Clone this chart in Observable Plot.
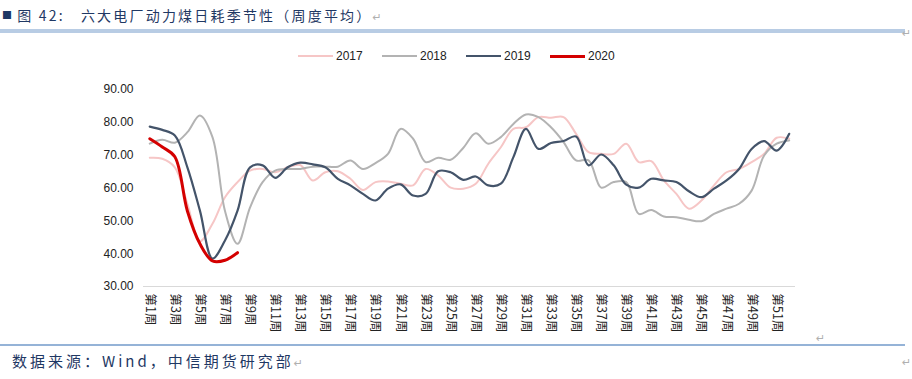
<!DOCTYPE html>
<html>
<head>
<meta charset="utf-8">
<script src="https://cdn.jsdelivr.net/npm/d3@7"></script>
<script src="https://cdn.jsdelivr.net/npm/@observablehq/plot@0.6"></script>
<style>
  html, body { margin: 0; padding: 0; background: #fff; }
  body { width: 912px; height: 379px; position: relative; overflow: hidden; font-family: "Liberation Sans", Arial, sans-serif; }
  .abs { position: absolute; white-space: nowrap; }
  .title { left: 2px; top: 5px; font-family: "Noto Sans CJK SC", sans-serif; font-size: 14px; color: #1f3864; letter-spacing: 2.2px; line-height: 20px; }
  .sq { font-size: 10px; vertical-align: 2px; letter-spacing: 0; }
  .foot { left: 12px; top: 350px; font-family: "Noto Sans CJK SC", sans-serif; font-size: 15px; color: #1f3864; letter-spacing: 3px; line-height: 22px; }
  .mark { color: #b0b0b0; font-size: 11px; font-family: "DejaVu Sans", sans-serif; letter-spacing: 0; }
  .leg { top: 48px; font-size: 12px; color: #222; line-height: 16px; }
  .legline { position: absolute; height: 2px; width: 35px; }
  #chart { position: absolute; left: 0; top: 70px; }
</style>
</head>
<body>
<div class="abs title"><span class="sq">■</span> 图 42:&nbsp;&nbsp;&nbsp;六大电厂动力煤日耗季节性（周度平均）<span class="mark">↵</span></div>
<div class="abs" style="left:0;top:29px;width:905px;height:4px;background:#b8cce4;"></div>
<div class="abs mark" style="left:902px;top:27px;">↵</div>
<div id="legend"></div>
<div id="chart"></div>
<div class="abs mark" style="left:816px;top:332px;">↵</div>
<div class="abs" style="left:0;top:344px;width:905px;height:2px;background:#95b3d7;"></div>
<div class="abs foot">数据来源：Wind，中信期货研究部<span class="mark">↵</span></div>
<div class="abs mark" style="left:902px;top:356px;">↵</div>
<script>
const series = ["2017", "2018", "2019", "2020"];
const colors = ["#f6c6c6", "#b3b3b3", "#44546a", "#d40000"];
const widths = [2, 2, 2.2, 3];
const weeks = Array.from({length: 52}, (_, i) => i + 1);
const tickWeeks = weeks.filter(w => w % 2 === 1);
const tickLabel = w => `第${w}周`;
const yTicks = [30, 40, 50, 60, 70, 80, 90];

const v2017 = [69.2, 68.9, 66.3, 55.2, 43.8, 49.1, 57.2, 61.8, 65.3, 65.8, 64.8, 66.3, 67.0, 62.3, 64.8, 65.1, 62.8, 59.4, 61.8, 62.0, 61.3, 60.8, 65.8, 63.8, 60.1, 59.8, 61.3, 67.4, 72.4, 78.0, 78.5, 81.6, 81.4, 81.6, 76.5, 70.9, 70.4, 70.4, 73.5, 67.9, 68.2, 62.3, 58.2, 53.7, 56.2, 60.8, 64.8, 65.8, 67.9, 70.4, 75.3, 75.0];
const v2018 = [73.5, 74.7, 73.8, 77.0, 82.1, 75.5, 53.0, 43.0, 54.1, 61.8, 65.3, 65.8, 65.8, 66.5, 66.5, 66.5, 68.4, 65.8, 67.6, 70.4, 78.0, 75.0, 67.9, 69.2, 68.6, 72.2, 76.7, 73.5, 75.5, 79.5, 82.4, 81.6, 78.5, 74.0, 68.4, 68.4, 60.1, 61.8, 61.8, 52.1, 53.3, 51.3, 51.1, 50.3, 49.9, 52.1, 53.7, 55.2, 59.2, 69.9, 73.5, 74.5];
const v2019 = [78.7, 77.7, 76.0, 66.3, 53.1, 38.5, 44.0, 53.1, 66.3, 66.9, 63.1, 66.3, 67.7, 67.2, 66.3, 62.8, 60.8, 58.2, 56.2, 59.8, 61.1, 57.7, 58.2, 65.1, 64.8, 62.5, 63.5, 60.8, 61.3, 69.4, 78.0, 71.9, 73.7, 74.3, 75.7, 66.9, 70.2, 66.9, 61.0, 60.1, 62.8, 62.3, 61.8, 59.0, 57.2, 59.8, 62.3, 65.8, 71.9, 74.3, 71.4, 76.5];
const v2020 = [75.0, 72.5, 69.5, 53.0, 43.0, 37.8, 38.0, 40.3];

const allValues = [v2017, v2018, v2019, v2020];
const rows = allValues.map((vals, s) => vals.map((v, i) => ({week: weeks[i], value: v, year: series[s]})));

// legend
const legend = document.getElementById("legend");
const legX = [298, 382, 466, 550];
series.forEach((s, i) => {
  const ln = document.createElement("div");
  ln.className = "legline";
  ln.style.left = legX[i] + "px";
  ln.style.top = (56 - widths[i] / 2) + "px";
  ln.style.height = widths[i] + "px";
  ln.style.background = colors[i];
  legend.appendChild(ln);
  const t = document.createElement("div");
  t.className = "abs leg";
  t.style.left = (legX[i] + 38) + "px";
  t.textContent = s;
  legend.appendChild(t);
});

const chart = Plot.plot({
  width: 912,
  height: 276,
  marginLeft: 143,
  marginRight: 117,
  marginTop: 19,
  marginBottom: 60,
  style: {fontFamily: "'Liberation Sans', Arial, sans-serif", fontSize: "12px", color: "#222", background: "#fff"},
  x: {type: "linear", domain: [0.5, 52.5], ticks: tickWeeks, tickFormat: tickLabel, tickRotate: 90, tickSize: 0, tickPadding: 7, label: null},
  y: {domain: [30, 90], ticks: yTicks, tickFormat: d => d.toFixed(2), tickSize: 0, tickPadding: 10, label: null},
  marks: [
    Plot.ruleY([30], {stroke: "#d9d9d9", strokeWidth: 1}),
    ...rows.map((r, i) => Plot.line(r, {x: "week", y: "value", stroke: colors[i], strokeWidth: widths[i], curve: "catmull-rom"}))
  ]
});
document.getElementById("chart").appendChild(chart);
chart.querySelectorAll("g[aria-label='x-axis tick label'] text").forEach(t => {
  t.style.fontFamily = "'Noto Sans CJK SC', sans-serif";
  t.style.fontSize = "12.5px";
});
</script>
</body>
</html>
